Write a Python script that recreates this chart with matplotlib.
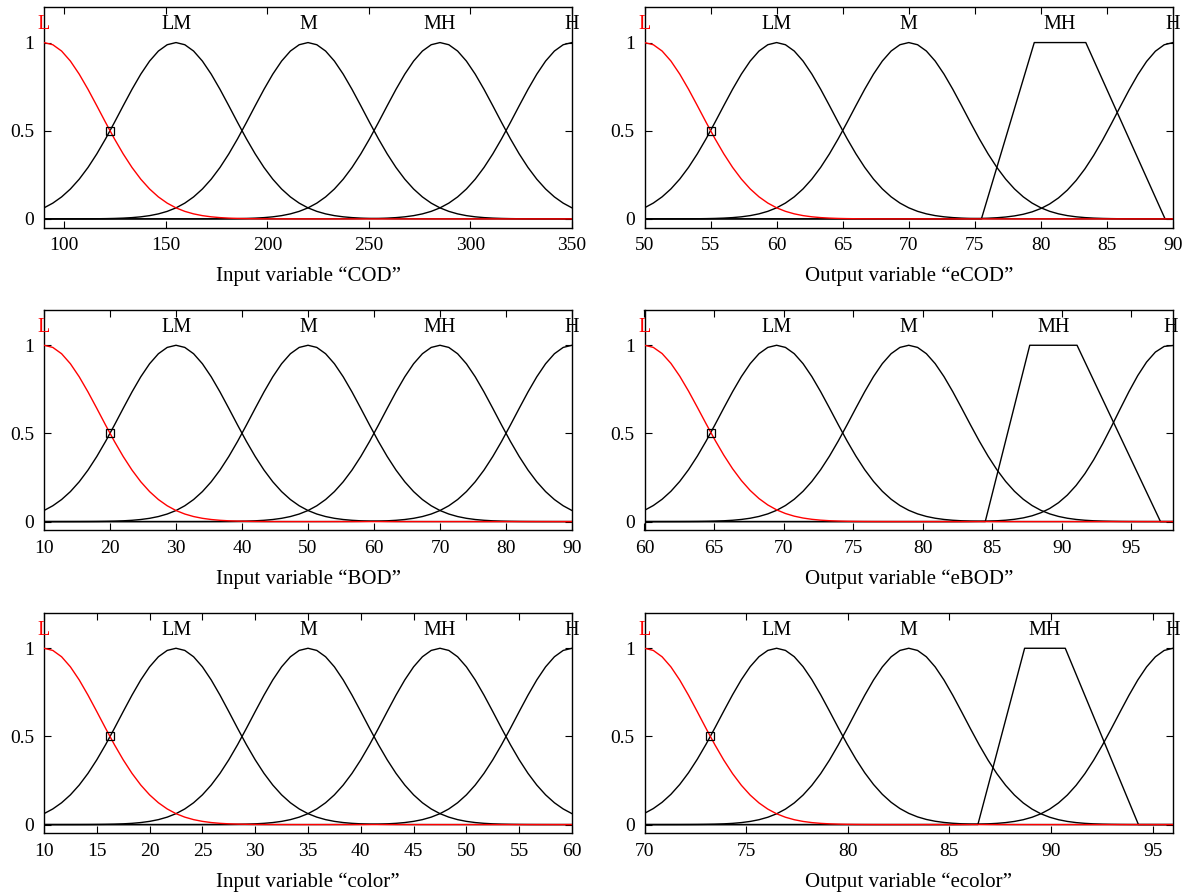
import numpy as np
import matplotlib
matplotlib.use('Agg')
import matplotlib.pyplot as plt

plt.rcParams['font.family'] = ['Liberation Serif', 'DejaVu Serif']

mf_names = ['L', 'LM', 'M', 'MH', 'H']

# ---- Input COD ----
cod_range = [90, 350]
cod_mfs = [('gauss', [90, 27.6]), ('gauss', [155, 27.6]), ('gauss', [220, 27.6]),
           ('gauss', [285, 27.6]), ('gauss', [350, 27.6])]
cod_ticks = [100, 150, 200, 250, 300, 350]
cod_label = 'Input variable \u201cCOD\u201d'

# ---- Output eCOD ----
ecod_range = [50, 90]
ecod_mfs = [('gauss', [50, 4.25]), ('gauss', [60, 4.25]), ('gauss', [70, 4.25]),
            ('trap', [75.5, 79.5, 83.4, 89.4]), ('gauss', [90, 4.2])]
ecod_ticks = [50, 55, 60, 65, 70, 75, 80, 85, 90]
ecod_label = 'Output variable \u201ceCOD\u201d'

# ---- Input BOD ----
bod_range = [10, 90]
bod_mfs = [('gauss', [10, 8.5]), ('gauss', [30, 8.5]), ('gauss', [50, 8.5]),
           ('gauss', [70, 8.5]), ('gauss', [90, 8.5])]
bod_ticks = [10, 20, 30, 40, 50, 60, 70, 80, 90]
bod_label = 'Input variable \u201cBOD\u201d'

# ---- Output eBOD ----
ebod_range = [60, 98]
ebod_mfs = [('gauss', [60, 4.08]), ('gauss', [69.5, 4.05]), ('gauss', [79, 4.05]),
            ('trap', [84.5, 87.7, 91.1, 97.1]), ('gauss', [97.8, 3.8])]
ebod_ticks = [60, 65, 70, 75, 80, 85, 90, 95]
ebod_label = 'Output variable \u201ceBOD\u201d'

# ---- Input color ----
color_range = [10, 60]
color_mfs = [('gauss', [10, 5.3]), ('gauss', [22.5, 5.3]), ('gauss', [35, 5.3]),
             ('gauss', [47.5, 5.3]), ('gauss', [60, 5.3])]
color_ticks = [10, 15, 20, 25, 30, 35, 40, 45, 50, 55, 60]
color_label = 'Input variable \u201ccolor\u201d'

# ---- Output ecolor ----
ecolor_range = [70, 96]
ecolor_mfs = [('gauss', [70, 2.75]), ('gauss', [76.5, 2.77]), ('gauss', [83, 2.75]),
              ('trap', [86.4, 88.7, 90.7, 94.3]), ('gauss', [96, 2.75])]
ecolor_ticks = [70, 75, 80, 85, 90, 95]
ecolor_label = 'Output variable \u201cecolor\u201d'

y_ticks = [0, 0.5, 1]
y_ticklabels = ['0', '0.5', '1']
n_samples = 61


def eval_mf(kind, p, x):
    if kind == 'gauss':
        c, s = p
        return np.exp(-(x - c) ** 2 / (2 * s ** 2))
    a, b, c, d = p
    up = np.clip((x - a) / (b - a), 0, 1)
    down = np.clip((d - x) / (d - c), 0, 1)
    return np.minimum(up, down)


def mf_x(kind, p, xr):
    x = np.linspace(xr[0], xr[1], n_samples)
    if kind == 'trap':
        x = np.unique(np.concatenate([x, [v for v in p if xr[0] <= v <= xr[1]]]))
    return x


def mf_peak(kind, p):
    if kind == 'gauss':
        return p[0]
    return (p[1] + p[2]) / 2


W, H = 1188, 896
fig = plt.figure(figsize=(W / 100, H / 100), dpi=100)

col_left = [44, 644.5]
col_width = [528, 528.5]
row_top = [7.3, 310, 613]
ax_h = 220.4
xlabel_off = 48.5

panels = [
    (0, 0, cod_range, cod_mfs, cod_ticks, cod_label),
    (0, 1, ecod_range, ecod_mfs, ecod_ticks, ecod_label),
    (1, 0, bod_range, bod_mfs, bod_ticks, bod_label),
    (1, 1, ebod_range, ebod_mfs, ebod_ticks, ebod_label),
    (2, 0, color_range, color_mfs, color_ticks, color_label),
    (2, 1, ecolor_range, ecolor_mfs, ecolor_ticks, ecolor_label),
]

for r, c, xr, mfs, ticks, label in panels:
    left = col_left[c] / W
    bottom = 1 - (row_top[r] + ax_h) / H
    ax = fig.add_axes([left, bottom, col_width[c] / W, ax_h / H])
    # black MFs first, then selected (red) one on top
    for i in range(1, len(mfs)):
        kind, p = mfs[i]
        x = mf_x(kind, p, xr)
        ax.plot(x, eval_mf(kind, p, x), color='black', lw=1.0, zorder=2)
    kind0, p0 = mfs[0]
    x = mf_x(kind0, p0, xr)
    ax.plot(x, eval_mf(kind0, p0, x), color='red', lw=1.0, zorder=3)
    # marker at the 0.5 crossing of the first MF
    xm = p0[0] + p0[1] * np.sqrt(2 * np.log(2))
    ax.plot([xm], [0.5], marker='s', ms=5.5, mfc='none', mec='black', mew=0.9,
            ls='none', zorder=4)
    for i, (kind, p) in enumerate(mfs):
        ax.text(mf_peak(kind, p), 1.1, mf_names[i], ha='center', va='center',
                fontsize=14.5, color='red' if i == 0 else 'black', zorder=5)
    ax.set_xlim(xr)
    ax.set_ylim(-0.05, 1.2)
    ax.set_xticks(ticks)
    ax.set_xticklabels([str(t) for t in ticks])
    ax.set_yticks(y_ticks)
    ax.set_yticklabels(y_ticklabels)
    ax.tick_params(direction='in', top=True, right=True, length=5, width=0.8,
                   labelsize=14, pad=7)
    for sp in ax.spines.values():
        sp.set_linewidth(1.0)
    ax.set_xlabel(label, fontsize=15)
    ax.xaxis.set_label_coords(0.5, -xlabel_off / ax_h)
    ax.xaxis.label.set_va('center')

fig.savefig('out.png', dpi=100)
